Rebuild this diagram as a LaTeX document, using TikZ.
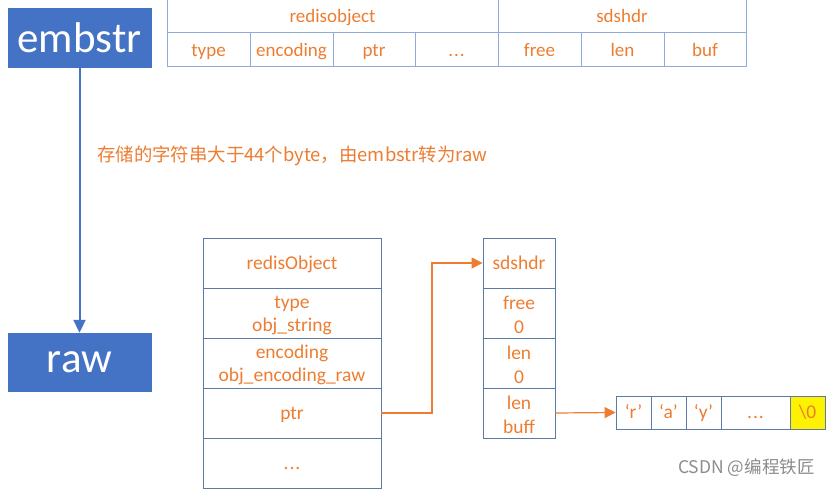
\documentclass[tikz,border=0pt]{standalone}
\usepackage{fontspec}
\setmainfont{Carlito}
\newfontfamily\cjk{Noto Sans CJK SC}
\usetikzlibrary{arrows.meta}
\definecolor{bluefill}{HTML}{4472C4}
\definecolor{orangetxt}{HTML}{ED7D31}
\definecolor{lineA}{HTML}{8FAADC}
\definecolor{lineB}{HTML}{5B7BA6}
\definecolor{wmark}{HTML}{8C8C8C}
\newcommand{\topstrut}{\rule{0pt}{17.5pt}}
\tikzset{
  bigbox/.style={draw=bluefill, fill=bluefill, text=white, minimum width=143pt, minimum height=59pt, inner sep=0pt, font=\fontsize{43}{46}\selectfont},
  topcell/.style={draw=lineA, line width=1pt, text=orangetxt, minimum height=34pt, inner sep=0pt, text height=15.5pt, text depth=3pt, font=\fontsize{19}{22}\selectfont},
  lowcell/.style={draw=lineB, line width=0.9pt, text=orangetxt, inner sep=0pt, align=center, text height=15.5pt, text depth=3pt, font=\fontsize{19.5}{23.5}\selectfont},
  twoline/.style={text height=, text depth=},
  objcell/.style={lowcell, minimum width=178pt, minimum height=50pt},
  sdscell/.style={lowcell, minimum width=72pt, minimum height=50pt},
  arrcell/.style={lowcell, minimum height=33pt},
  orangearrow/.style={draw=orangetxt, line width=1.2pt, -{Triangle[length=11pt,width=11pt]}},
  bluearrow/.style={draw=bluefill, line width=2pt, -{Triangle[length=13pt,width=12pt]}},
}
\begin{document}
\begin{tikzpicture}[x=1pt,y=-1pt]
\useasboundingbox[fill=white] (0,0) rectangle (829,489);
% left boxes
\node[bigbox] (embstr) at (79.5,37.5) {embstr};
\node[bigbox, minimum height=58pt] (raw) at (79.5,362) {raw};
\draw[bluearrow] (embstr.south) -- (raw.north);
% top table
\node[topcell, minimum width=331pt] (ro) at (332.5,16) {redisobject};
\node[topcell, minimum width=248pt] (sh) at (622,16) {sdshdr};
\node[topcell, minimum width=83pt] (t1) at (208.5,50) {type};
\node[topcell, minimum width=83pt] (t2) at (291.5,50) {encoding};
\node[topcell, minimum width=82pt] (t3) at (374,50) {ptr};
\node[topcell, minimum width=83pt] (t4) at (456.5,50) {.\kern1pt.\kern1pt.};
\node[topcell, minimum width=83pt] (t5) at (539.5,50) {free};
\node[topcell, minimum width=83pt] (t6) at (622.5,50) {len};
\node[topcell, minimum width=82pt] (t7) at (705,50) {buf};
% caption
\node[anchor=west, text=orangetxt, inner sep=0pt, font=\cjk\fontsize{18.4}{22}\selectfont] (cap) at (97,156) {存储的字符串大于44个byte，由embstr转为raw};
% redisObject column
\node[objcell] (o1) at (292,263) {redisObject};
\node[objcell, twoline] (o2) at (292,313) {\topstrut type\\obj\_string};
\node[objcell, twoline] (o3) at (292,363) {\topstrut encoding\\obj\_encoding\_raw};
\node[objcell] (o4) at (292,413) {ptr};
\node[objcell] (o5) at (292,463) {.\kern1pt.\kern1pt.};
% sdshdr column
\node[sdscell] (s1) at (519,263) {sdshdr};
\node[sdscell, twoline] (s2) at (519,313) {\topstrut free\\0};
\node[sdscell, twoline] (s3) at (519,363) {\topstrut len\\0};
\node[sdscell, twoline] (s4) at (519,413) {\topstrut len\\buff};
% array
\node[arrcell, minimum width=35pt] (a1) at (633.5,412.5) {‘r’};
\node[arrcell, minimum width=35pt] (a2) at (668.5,412.5) {‘a’};
\node[arrcell, minimum width=35pt] (a3) at (703.5,412.5) {‘y’};
\node[arrcell, minimum width=69pt] (a4) at (755.5,412.5) {.\kern1pt.\kern1pt.};
\node[arrcell, minimum width=35pt, fill=yellow] (a5) at (807.5,412.5) {\textbackslash 0};
% connectors
\coordinate (bend1) at (432,413);
\coordinate (bend2) at (432,263);
\draw[orangearrow] (o4.east) -- (bend1) -- (bend2) -- (s1.west);
\draw[orangearrow] (s4.east) -- (a1.west);
% watermark
\node[anchor=west, text=wmark, inner sep=0pt, font=\cjk\fontsize{17.5}{20}\selectfont] (wm) at (678,468) {CSDN @编程铁匠};
\end{tikzpicture}
\end{document}
